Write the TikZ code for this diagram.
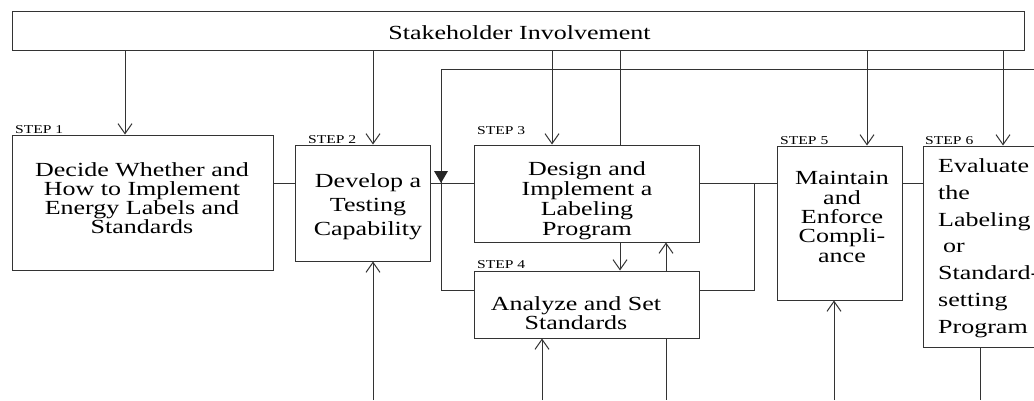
\documentclass[tikz,border=0pt]{standalone}
\usepackage{fontspec}
\setmainfont{Liberation Serif}[FakeStretch=1.3]
\usetikzlibrary{arrows.meta}
\setlength{\lineskiplimit}{-50pt}

\begin{document}
\begin{tikzpicture}[x=1pt,y=-1pt,
  line/.style={draw=black!80, line width=1pt},
  arr/.style={line, -{Straight Barb[length=10pt,width=14pt,line width=1pt]}},
  box/.style={line, rectangle, inner sep=0pt},
  body/.style={font=\fontsize{20}{#1}\selectfont, inner sep=0pt, align=center, anchor=base},
  steplabel/.style={font=\fontsize{12}{12}\selectfont, inner sep=0pt, anchor=base west},
]
\path[use as bounding box] (0,0) rectangle (1034,400);
\clip (0,0) rectangle (1034,400);

% reference rows and columns for the connectors
\coordinate (row) at (0,183);
\coordinate (lowrow) at (0,290);
\coordinate (loopTop) at (0,69);
\coordinate (bottom) at (0,400);
\coordinate (farRight) at (1045,0);
\coordinate (loopX) at (441,0);
\coordinate (a1) at (125,0);
\coordinate (a2) at (373,0);
\coordinate (a3) at (552,0);
\coordinate (a3b) at (620,0);
\coordinate (a5) at (867,0);
\coordinate (a6) at (1003,0);
\coordinate (u34) at (666,0);
\coordinate (in4) at (542,0);
\coordinate (in5) at (834,0);
\coordinate (out6) at (980,0);
\coordinate (join45) at (754,0);

% stakeholder banner
\node[box, minimum width=1012pt, minimum height=39pt] (sh) at (518,30.5) {};
\node[body=20] (shT) at (519.5,39.3) {Stakeholder Involvement};

% step boxes
\node[box, minimum width=261pt, minimum height=135pt] (s1) at (142.5,202.5) {};
\node[box, minimum width=135pt, minimum height=116pt] (s2) at (362.5,203) {};
\node[box, minimum width=225pt, minimum height=97pt] (s3) at (586.5,193.5) {};
\node[box, minimum width=225pt, minimum height=67pt] (s4) at (586.5,304.5) {};
\node[box, minimum width=125pt, minimum height=154pt] (s5) at (839.5,223) {};
\node[box, minimum width=127pt, minimum height=201pt] (s6) at (986.5,246.5) {};

% step labels
\node[steplabel] (l1) at (15,133) {STEP 1};
\node[steplabel] (l2) at (308,143) {STEP 2};
\node[steplabel] (l3) at (477,134) {STEP 3};
\node[steplabel] (l4) at (477,268) {STEP 4};
\node[steplabel] (l5) at (780,144) {STEP 5};
\node[steplabel] (l6) at (925,144) {STEP 6};

% step texts (placed by the baseline of their last line)
\node[body=18.8] (t1) at (142,233) {Decide Whether and\\How to Implement\\Energy Labels and\\Standards};
\node[body=24] (t2) at (368,235) {Develop a\\Testing\\Capability};
\node[body=19.7] (t3) at (587,235) {Design and\\Implement a\\Labeling\\Program};
\node[body=19.3] (t4) at (576,329.3) {Analyze and Set\\Standards};
\node[body=19.3] (t5) at (842,262) {Maintain\\and\\Enforce\\Compli-\\ance};
\node[body=26.7, align=left, anchor=base west] (t6) at (938,333)
  {Evaluate\\the\\Labeling\\\hspace*{5pt}or\\Standard-\\setting\\Program};

% stakeholder input to the steps
\draw[arr] (sh.south -| a1) -- (s1.north -| a1);
\draw[arr] (sh.south -| a2) -- (s2.north -| a2);
\draw[arr] (sh.south -| a3) -- (s3.north -| a3);
\draw[line] (sh.south -| a3b) -- (s3.north -| a3b);
\draw[arr] (sh.south -| a5) -- (s5.north -| a5);
\draw[arr] (sh.south -| a6) -- (s6.north -| a6);

% main sequence
\draw[line] (s1.east |- row) -- (s2.west |- row);
\draw[line] (s2.east |- row) -- (s3.west |- row);
\draw[line] (s3.east |- row) -- (s5.west |- row);
\draw[line] (s5.east |- row) -- (s6.west |- row);
\draw[line] (s4.east |- lowrow) -| (join45 |- row);

% labeling <-> standards
\draw[arr] (s3.south -| a3b) -- (s4.north -| a3b);
\draw[arr] (s4.north -| u34) -- (s3.south -| u34);

% feedback loop from the evaluation
\draw[line] (farRight |- loopTop) -| (loopX |- lowrow) -- (s4.west |- lowrow);
\coordinate (tip) at (loopX |- row);
\fill[black!85] (tip) -- ++(-7,-12) -- ++(14,0) -- cycle;

% inputs and outputs at the bottom
\draw[arr] (bottom -| a2) -- (s2.south -| a2);
\draw[arr] (bottom -| in4) -- (s4.south -| in4);
\draw[line] (s4.south -| u34) -- (bottom -| u34);
\draw[arr] (bottom -| in5) -- (s5.south -| in5);
\draw[line] (s6.south -| out6) -- (bottom -| out6);
\end{tikzpicture}
\end{document}
